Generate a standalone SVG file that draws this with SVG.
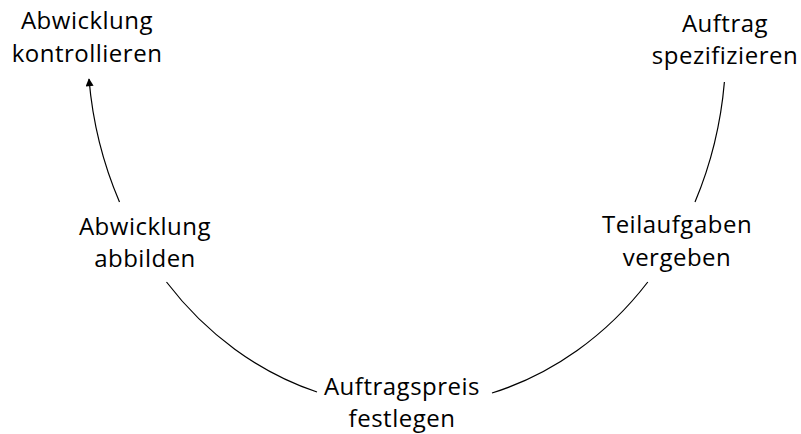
<svg xmlns="http://www.w3.org/2000/svg" width="801" height="434" viewBox="0 0 801 434">
  <style>
    .lbl { font-family: "Open Sans", "Noto Sans", "DejaVu Sans", sans-serif; font-size: 24px; letter-spacing: 0.5px; fill: #000; text-anchor: middle; }
    .arc { fill: none; stroke: #000; stroke-width: 1.2; }
  </style>
  <defs>
    <marker id="arrowHead" viewBox="0 0 10 10" refX="9" refY="5" markerWidth="9" markerHeight="8" orient="auto" markerUnits="userSpaceOnUse">
      <path d="M0,0 L10,5 L0,10 Z" fill="#000"/>
    </marker>
  </defs>
  <rect width="801" height="434" fill="#fff"/>

  <!-- connectors: segments of one ellipse (centre 407,46; rx 319, ry 360) -->
  <g id="connectors">
    <path class="arc" d="M724.4,82 A319,360 0 0 1 695,202"/>
    <path class="arc" d="M647.8,282 A319,360 0 0 1 492,393"/>
    <path class="arc" d="M317,392 A319,360 0 0 1 166.5,282"/>
    <path class="arc" d="M119.5,202 A319,360 0 0 1 89,79" marker-end="url(#arrowHead)"/>
  </g>

  <g id="node-auftrag-spezifizieren">
    <text class="lbl" x="725" y="32">Auftrag</text>
    <text class="lbl" x="725" y="64">spezifizieren</text>
  </g>
  <g id="node-teilaufgaben-vergeben">
    <text class="lbl" x="677" y="233">Teilaufgaben</text>
    <text class="lbl" x="677" y="266">vergeben</text>
  </g>
  <g id="node-auftragspreis-festlegen">
    <text class="lbl" x="402" y="395">Auftragspreis</text>
    <text class="lbl" x="402" y="427">festlegen</text>
  </g>
  <g id="node-abwicklung-abbilden">
    <text class="lbl" x="145" y="235">Abwicklung</text>
    <text class="lbl" x="145" y="267">abbilden</text>
  </g>
  <g id="node-abwicklung-kontrollieren">
    <text class="lbl" x="87" y="29">Abwicklung</text>
    <text class="lbl" x="87" y="62">kontrollieren</text>
  </g>
</svg>
